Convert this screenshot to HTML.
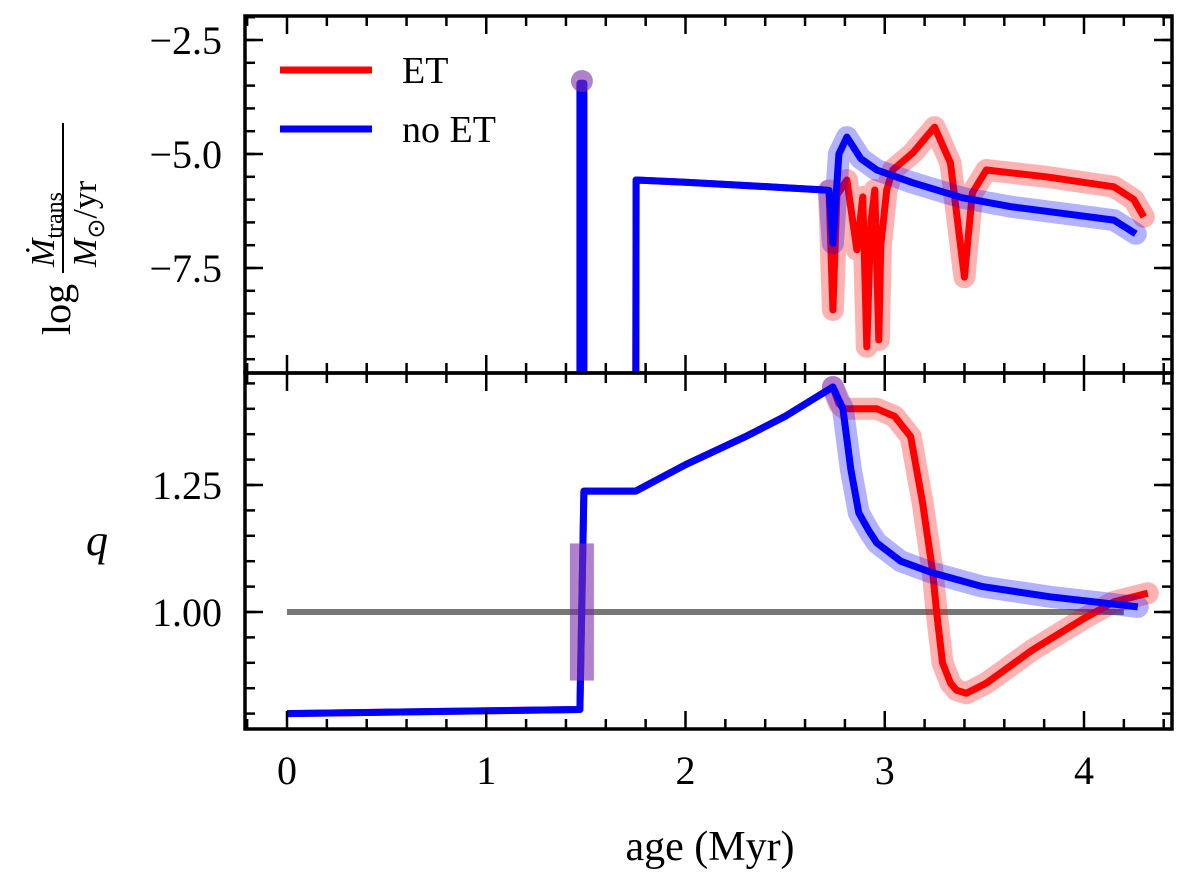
<!DOCTYPE html>
<html><head><meta charset="utf-8"><style>
html,body{margin:0;padding:0;background:#fff;}
svg{display:block;font-family:"Liberation Serif",serif;}
</style></head><body>
<svg id="chart" width="1200" height="885" viewBox="0 0 1200 885" xmlns="http://www.w3.org/2000/svg">
<g id="topPanel"></g>
<g id="botPanel"></g>
<text x="710" y="860" font-size="42" text-anchor="middle">age (Myr)</text>
<g transform="translate(70,205) rotate(-90)">
 <text x="-130" y="0" font-size="40">log</text>
 <text x="-62" y="-16" font-size="34" font-style="italic">Ṁ<tspan font-size="24" font-style="normal" dy="8">trans</tspan></text>
 <line x1="-68" y1="-7" x2="82" y2="-7" stroke="#000" stroke-width="2"/>
 <text x="-62" y="26" font-size="34" font-style="italic">M<tspan font-size="24" font-style="normal" dy="8">⊙</tspan><tspan dy="-8" font-style="normal">/yr</tspan></text>
</g>
<text x="97" y="555" font-size="44" font-style="italic" text-anchor="middle">q</text>
<g>
 <line x1="280" y1="70" x2="372" y2="70" stroke="#f00" stroke-width="7"/>
 <text x="402" y="83" font-size="38">ET</text>
 <line x1="280" y1="129" x2="372" y2="129" stroke="#00f" stroke-width="7"/>
 <text x="402" y="142" font-size="38">no ET</text>
</g>
</svg>
<script>
// ---- data ----
const topEtAge  = [1.75,1.752,2.0,2.3,2.5,2.70,2.72,2.74,2.76,2.81,2.84,2.86,2.89,2.91,2.93,2.95,2.97,2.98,3.01,3.04,3.14,3.25,3.33,3.40,3.44,3.51,3.81,4.15,4.25,4.30];
const topEtVal  = [-12,-5.57,-5.62,-5.69,-5.74,-5.79,-5.8,-8.42,-5.9,-5.57,-6.5,-7.1,-5.94,-9.23,-6.5,-5.79,-9.08,-7.0,-5.79,-5.35,-4.98,-4.41,-5.2,-7.7,-5.85,-5.35,-5.5,-5.72,-6.0,-6.38];
const topNoAge  = [1.47,1.47,1.49,1.49,1.75,1.752,2.0,2.3,2.5,2.70,2.72,2.74,2.77,2.81,2.88,2.96,3.14,3.39,3.64,3.89,4.15,4.26];
const topNoVal  = [-12,-3.45,-3.45,-12,-12,-5.57,-5.62,-5.69,-5.74,-5.79,-5.8,-6.96,-5.0,-4.63,-5.1,-5.35,-5.63,-5.96,-6.16,-6.3,-6.45,-6.75];
const qNoAge = [0,1.47,1.49,1.75,2.0,2.3,2.5,2.74,2.79,2.83,2.87,2.92,2.96,3.08,3.24,3.49,3.83,4.05,4.27];
const qNoVal = [0.800,0.808,1.238,1.238,1.29,1.345,1.385,1.443,1.40,1.28,1.195,1.16,1.136,1.10,1.077,1.05,1.03,1.02,1.01];
const qEtAge = [0,1.47,1.49,1.75,2.0,2.3,2.5,2.74,2.77,2.8,2.96,3.05,3.13,3.19,3.24,3.26,3.29,3.33,3.36,3.41,3.51,3.74,3.99,4.15,4.32];
const qEtVal = [0.800,0.808,1.238,1.238,1.29,1.345,1.385,1.443,1.41,1.40,1.40,1.385,1.345,1.215,1.08,1.0,0.90,0.86,0.846,0.84,0.86,0.925,0.985,1.02,1.037];
const xTicks = [0,1,2,3,4];
const topYTicks = [-2.5,-5.0,-7.5];
const botYTicks = [1.00,1.25];
// ---- scales ----
const X0=245,X1=1172,T0=16,T1=373,B1=729;
const xs=a=>287+a*199.25;
const ys1=v=>40-(v+2.5)*45.6;
const ys2=v=>612-(v-1)*508;
const NS="http://www.w3.org/2000/svg";
function mk(p,tag,at){const e=document.createElementNS(NS,tag);for(const k in at)e.setAttribute(k,at[k]);p.appendChild(e);return e;}
function pts(ax,vs,ys,from){let s=[];for(let i=0;i<ax.length;i++){if(from===undefined||ax[i]>=from)s.push(xs(ax[i]).toFixed(1)+","+ys(vs[i]).toFixed(1));}return s.join(" ");}
const topP=document.getElementById('topPanel'),botP=document.getElementById('botPanel');
const defs=mk(document.getElementById('chart'),'defs',{});
const c1=mk(defs,'clipPath',{id:'c1'});mk(c1,'rect',{x:X0,y:T0,width:X1-X0,height:T1-T0});
const c2=mk(defs,'clipPath',{id:'c2'});mk(c2,'rect',{x:X0,y:T1,width:X1-X0,height:B1-T1});
const g1=mk(topP,'g',{'clip-path':'url(#c1)'}),g2=mk(botP,'g',{'clip-path':'url(#c2)'});
let gl=mk(g2,'line',{x1:xs(0),x2:xs(4.2),y1:ys2(1),y2:ys2(1),stroke:'#777',"stroke-width":6});


function series(g,ax,vs,ys,col,halo,name,hfrom){
 const h=mk(g,'polyline',{points:pts(ax,vs,ys,hfrom),fill:'none',stroke:halo,'stroke-width':22,'stroke-opacity':0.3,'stroke-linejoin':'round','stroke-linecap':'round'});
 
 
 const l=mk(g,'polyline',{points:pts(ax,vs,ys),fill:'none',stroke:col,'stroke-width':7,'stroke-linejoin':'round'});
 
 
}
series(g1,topEtAge,topEtVal,ys1,'#f00','#f00','mdot-et',2.72);
series(g1,topNoAge,topNoVal,ys1,'#00f','#00f','mdot-no-et',2.72);
series(g2,qEtAge,qEtVal,ys2,'#f00','#f00','q-et',2.72);
series(g2,qNoAge,qNoVal,ys2,'#00f','#00f','q-no-et',2.72);
let pm=mk(g2,'rect',{x:xs(1.48)-12,y:ys2(1.135),width:24,height:ys2(0.865)-ys2(1.135),fill:'#7a2fa8','fill-opacity':0.6});


let pt=mk(g1,'circle',{cx:xs(1.48),cy:ys1(-3.4),r:11,fill:'#7a2fa8','fill-opacity':0.6});


function frame(g,y0,y1,ys,maj,minStep,minLo,minHi,fmt,name){
 const r=mk(g,'rect',{x:X0,y:y0,width:X1-X0,height:y1-y0,fill:'none',stroke:'#000','stroke-width':3.5});
 
 
 for(let a=-0.2;a<=4.41;a+=0.2){const x=xs(a);const M=Math.abs(a-Math.round(a))<1e-6;const L=M?18:10;
  mk(g,'line',{x1:x,x2:x,y1:y1,y2:y1-L,stroke:'#000','stroke-width':2.5});
  mk(g,'line',{x1:x,x2:x,y1:y0,y2:y0+L,stroke:'#000','stroke-width':2.5});}
 for(let v=minLo;v<=minHi+1e-9;v+=minStep){const y=ys(v);if(y<y0-1||y>y1+1)continue;
  mk(g,'line',{x1:X0,x2:X0+10,y1:y,y2:y,stroke:'#000','stroke-width':2.5});
  mk(g,'line',{x1:X1,x2:X1-10,y1:y,y2:y,stroke:'#000','stroke-width':2.5});}
 maj.forEach(v=>{const y=ys(v);
  mk(g,'line',{x1:X0,x2:X0+18,y1:y,y2:y,stroke:'#000','stroke-width':2.5});
  mk(g,'line',{x1:X1,x2:X1-18,y1:y,y2:y,stroke:'#000','stroke-width':2.5});
  const t=mk(g,'text',{x:222,y:y+14,'font-size':40,'text-anchor':'end'});t.textContent=fmt(v);
  
  });
}
frame(topP,T0,T1,ys1,topYTicks,0.5,-10,-2,v=>(v<0?'\u2212':'')+Math.abs(v).toFixed(1),'top');
frame(botP,T1,B1,ys2,botYTicks,0.05,0.75,1.5,v=>v.toFixed(2),'bottom');
xTicks.forEach(a=>{const t=mk(botP,'text',{x:xs(a),y:784,'font-size':40,'text-anchor':'middle'});t.textContent=String(a);
 
 });
</script>
</body></html>
